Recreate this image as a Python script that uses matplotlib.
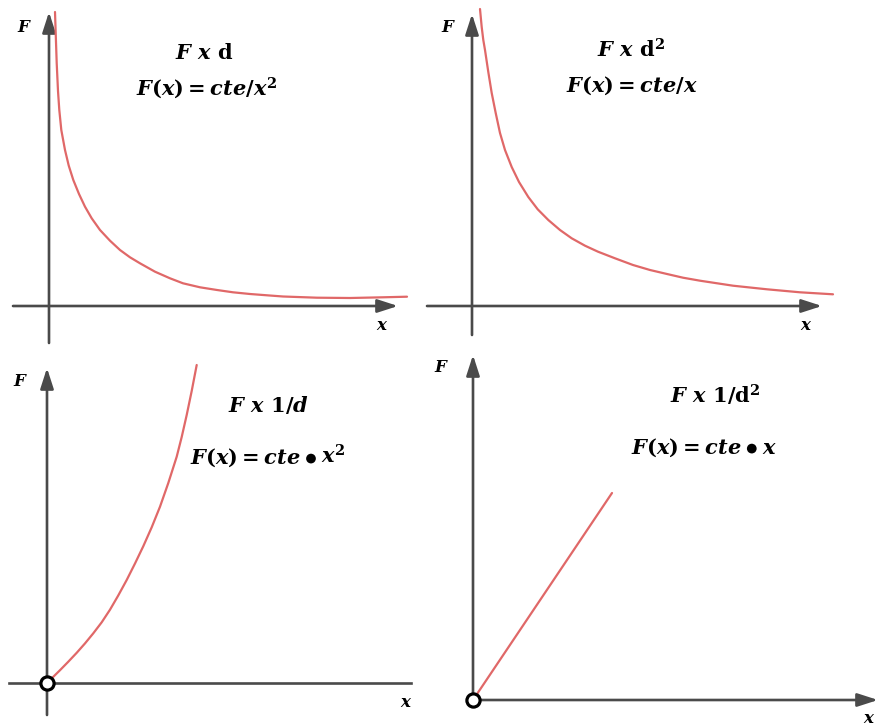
import matplotlib
matplotlib.use('Agg')
import matplotlib.pyplot as plt
from matplotlib.offsetbox import TextArea, HPacker, AnnotationBbox, DrawingArea
from matplotlib.patches import Circle

# ---------------- data (arbitrary units) ----------------
p1_x = [0.60, 0.67, 0.77, 0.90, 1.03, 1.23, 1.60, 1.97, 2.43, 3.00, 3.60, 4.27, 5.10, 6.10,
        7.10, 8.10, 9.10, 10.6, 12.1, 13.4, 15.1, 16.8, 18.4, 20.1, 21.8, 23.4, 26.8, 30.1, 33.4, 35.8]
p1_F = [29.4, 27.3, 24.3, 21.5, 19.6, 17.6, 15.6, 14.05, 12.6, 11.2, 9.93, 8.77, 7.60, 6.53,
        5.60, 4.87, 4.27, 3.43, 2.77, 2.27, 1.87, 1.60, 1.37, 1.20, 1.07, 0.95, 0.83, 0.80, 0.87, 0.93]

p2_x = [0.80, 0.97, 1.13, 1.30, 1.63, 1.97, 2.37, 2.80, 3.30, 3.97, 4.70, 5.63, 6.57, 7.63,
        8.80, 9.97, 11.3, 12.6, 14.3, 16.1, 17.8, 19.5, 21.1, 22.8, 26.1, 29.5, 32.8, 36.1]
p2_F = [29.7, 27.9, 26.6, 25.6, 23.4, 21.3, 19.3, 17.3, 15.6, 13.9, 12.4, 10.9, 9.67, 8.60,
        7.60, 6.77, 6.03, 5.43, 4.77, 4.10, 3.60, 3.20, 2.83, 2.53, 2.03, 1.67, 1.37, 1.17]

p3_x = [0.0, 0.63, 1.30, 2.13, 2.97, 3.80, 4.63, 5.47, 6.30, 7.13, 7.97, 8.80, 9.63, 10.47,
        11.3, 12.13, 12.97, 13.47, 13.97, 14.47, 14.97]
p3_F = [0.0, 0.62, 1.28, 2.13, 3.02, 3.96, 4.97, 6.07, 7.33, 8.76, 10.3, 11.95, 13.68, 15.57,
        17.63, 20.0, 22.63, 24.6, 26.8, 29.2, 31.8]

p4_x = [0.0, 13.9]
p4_F = [0.0, 20.7]

titles = [r"$F\ x\ \mathrm{d}$", r"$F\ x\ \mathrm{d}^2$",
          r"$F\ x\ 1/d$", r"$F\ x\ 1/\mathrm{d}^2$"]
# each formula as pieces; None marks the product bullet between pieces
formulas = [[r"$F(x)=cte/x^2$"], [r"$F(x)=cte/x$"],
            [r"$F(x)=cte$", None, r"$x^2$"], [r"$F(x)=cte$", None, r"$x$"]]

# ---------------- style ----------------
plt.rcParams['mathtext.fontset'] = 'custom'
plt.rcParams['mathtext.it'] = 'DejaVu Serif:italic:bold'
plt.rcParams['mathtext.rm'] = 'DejaVu Serif:bold'
plt.rcParams['mathtext.bf'] = 'DejaVu Serif:bold'

W, H, DPI = 878, 726, 100
U = 10.0  # pixels per data unit
AX_COLOR = '#4a4a4a'
CURVE = '#e06868'
FS = 15

fig = plt.figure(figsize=(W / DPI, H / DPI), dpi=DPI)
fig.patch.set_facecolor('white')

# layout of each panel in pixels: origin, x-axis extent, y-axis extent, arrow on x
panels = [
    dict(x=p1_x, y=p1_F, origin=(49, 306), xa=(13, 398), ya=(343, 12), xarrow=True, marker=False,
         title=(204, 59), formula=(207, 95), Flab=(25, 27), xlab=(382, 325)),
    dict(x=p2_x, y=p2_F, origin=(472, 306), xa=(427, 822), ya=(335, 14), xarrow=True, marker=False,
         title=(631, 58), formula=(632, 92), Flab=(449, 27), xlab=(806, 325)),
    dict(x=p3_x, y=p3_F, origin=(47, 683), xa=(9, 411), ya=(715, 368), xarrow=False, marker=True,
         title=(268, 412), formula=(268, 457), Flab=(21, 381), xlab=(406, 702)),
    dict(x=p4_x, y=p4_F, origin=(473, 700), xa=(473, 878), ya=(700, 355), xarrow=True, marker=True,
         title=(715, 403), formula=(704, 448), Flab=(442, 367), xlab=(869, 718)),
]

for i, p in enumerate(panels):
    ox, oy = p['origin']
    sub = fig.add_axes([0, 0, 1, 1])
    # data coordinates such that the origin lands at (ox, oy) with U px per unit
    sub.set_xlim(-ox / U, (W - ox) / U)
    sub.set_ylim(-(H - oy) / U, oy / U)
    sub.axis('off')
    sub.patch.set_alpha(0)

    # axes lines
    x0, x1 = (p['xa'][0] - ox) / U, (p['xa'][1] - ox) / U
    y0, y1 = (oy - p['ya'][0]) / U, (oy - p['ya'][1]) / U
    style = '-|>,head_length=0.62,head_width=0.2'
    sub.annotate('', xy=(0, y1), xytext=(0, y0),
                 arrowprops=dict(arrowstyle=style, color=AX_COLOR, lw=1.9,
                                 mutation_scale=20, shrinkA=0, shrinkB=0))
    if p['xarrow']:
        sub.annotate('', xy=(x1, 0), xytext=(x0, 0),
                     arrowprops=dict(arrowstyle=style, color=AX_COLOR, lw=1.9,
                                     mutation_scale=20, shrinkA=0, shrinkB=0))
    else:
        sub.plot([x0, x1], [0, 0], color=AX_COLOR, lw=1.9, solid_capstyle='projecting')

    # curve
    sub.plot(p['x'], p['y'], color=CURVE, lw=1.6, solid_capstyle='round',
             solid_joinstyle='round', zorder=3)
    if p['marker']:
        sub.plot([0], [0], marker='o', ms=9.5, mfc='white', mec='black', mew=2.3, zorder=5,
                 clip_on=False)

    # texts
    tx, ty = p['title']
    fig.text(tx / W, 1 - ty / H, titles[i], ha='center', va='baseline', fontsize=FS)
    fx, fy = p['formula']
    parts = formulas[i]
    if len(parts) == 1:
        fig.text(fx / W, 1 - fy / H, parts[0], ha='center', va='baseline', fontsize=FS)
    else:
        dot = DrawingArea(7.6, 8, 0, 0)
        dot.add_artist(Circle((3.8, 3.9), 3.5, facecolor='black', edgecolor='none'))
        kids = [TextArea(parts[0], textprops=dict(fontsize=FS)), dot,
                TextArea(parts[2], textprops=dict(fontsize=FS))]
        box = HPacker(children=kids, align='baseline', pad=0, sep=3.5)
        ab = AnnotationBbox(box, (fx / W, 1 - fy / H), xycoords='figure fraction',
                            frameon=False, box_alignment=(0.5, 0.5), pad=0)
        sub.add_artist(ab)
    lx, ly = p['Flab']
    fig.text(lx / W, 1 - ly / H, r"$F$", ha='center', va='center', fontsize=12)
    lx, ly = p['xlab']
    fig.text(lx / W, 1 - ly / H, r"$x$", ha='center', va='center', fontsize=12)

fig.savefig('out.png', dpi=DPI, facecolor='white')
